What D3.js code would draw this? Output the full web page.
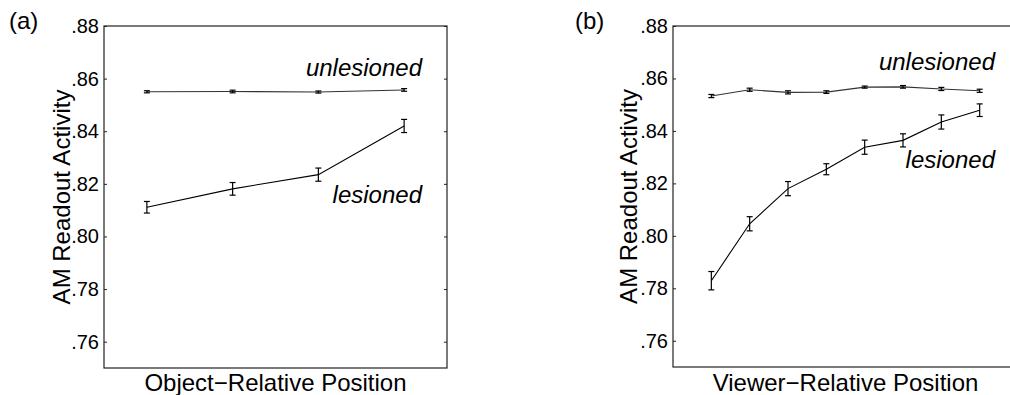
<!DOCTYPE html>
<html>
<head>
<meta charset="utf-8">
<script src="https://cdn.jsdelivr.net/npm/d3@7"></script>
<style>
  body { margin: 0; background: #fff; }
  svg { display: block; font-family: "Liberation Sans", Arial, sans-serif; }
  .tick text { font-size: 20px; fill: #000; }
  .tick line { stroke: #222; }
</style>
</head>
<body>
<div id="chart"></div>
<script>
// y axis ticks shared by both panels
var yTicks = [0.76, 0.78, 0.80, 0.82, 0.84, 0.86, 0.88];

// (a) object-relative
var objPositions = [1, 2, 3, 4];
var objUnlesioned = [0.8550, 0.8551, 0.8549, 0.8557];
var objUnlesionedErr = [0.0004, 0.0005, 0.0004, 0.0005];
var objLesioned = [0.8111, 0.8181, 0.8235, 0.8420];
var objLesionedErr = [0.0022, 0.0024, 0.0025, 0.0025];

// (b) viewer-relative
var viewPositions = [1, 2, 3, 4, 5, 6, 7, 8];
var viewUnlesioned = [0.8533, 0.8557, 0.8547, 0.8548, 0.8567, 0.8568, 0.8560, 0.8553];
var viewUnlesionedErr = [0.0006, 0.0006, 0.0006, 0.0005, 0.0004, 0.0005, 0.0006, 0.0006];
var viewLesioned = [0.7829, 0.8046, 0.8180, 0.8254, 0.8338, 0.8364, 0.8434, 0.8479];
var viewLesionedErr = [0.0035, 0.0027, 0.0027, 0.0021, 0.0027, 0.0025, 0.0027, 0.0024];

var svg = d3.select("#chart").append("svg")
    .attr("width", 1010)
    .attr("height", 395);

var fmt = function(d) { return d3.format(".2f")(d).replace(/^0/, ""); };

function drawPanel(p) {
  var x = d3.scalePoint()
      .domain(p.positions)
      .range([p.left, p.right])
      .padding(p.pad);

  var y = d3.scaleLinear()
      .domain([0.75, 0.88])
      .range([p.bottom, p.top]);

  var g = svg.append("g");

  // left axis, ticks inside
  g.append("g")
      .attr("transform", "translate(" + p.left + ",0)")
      .call(d3.axisLeft(y).tickValues(yTicks).tickSize(-3).tickPadding(5).tickFormat(fmt))
      .call(function(a) { a.select(".domain").remove(); });

  // right axis, ticks only
  g.append("g")
      .attr("transform", "translate(" + p.right + ",0)")
      .call(d3.axisRight(y).tickValues(yTicks).tickSize(-3).tickFormat(""))
      .call(function(a) { a.select(".domain").remove(); });

  g.append("rect")
      .attr("x", p.left)
      .attr("y", y(0.88))
      .attr("width", p.right - p.left)
      .attr("height", y(0.75) - y(0.88))
      .attr("fill", "none")
      .attr("stroke", "#222")
      .attr("stroke-width", 1.2);

  var line = d3.line()
      .x(function(d) { return x(d.pos); })
      .y(function(d) { return y(d.val); });

  [p.unlesioned, p.lesioned].forEach(function(s, k) {
    var pts = p.positions.map(function(pos, i) {
      return { pos: pos, val: s.vals[i], err: s.errs[i] };
    });

    g.append("path")
        .datum(pts)
        .attr("d", line)
        .attr("fill", "none")
        .attr("stroke", k === 0 ? "#333" : "#000")
        .attr("stroke-width", 1.1);

    var bars = g.selectAll(".err" + k)
        .data(pts)
      .enter().append("g")
        .attr("class", "err" + k)
        .attr("stroke", "#000")
        .attr("stroke-width", 1.2);

    bars.append("line")
        .attr("x1", function(d) { return x(d.pos); })
        .attr("x2", function(d) { return x(d.pos); })
        .attr("y1", function(d) { return y(d.val - d.err); })
        .attr("y2", function(d) { return y(d.val + d.err); });

    [-1, 1].forEach(function(sg) {
      bars.append("line")
          .attr("x1", function(d) { return x(d.pos) - 3; })
          .attr("x2", function(d) { return x(d.pos) + 3; })
          .attr("y1", function(d) { return y(d.val + sg * d.err); })
          .attr("y2", function(d) { return y(d.val + sg * d.err); });
    });
  });

  // series labels
  g.append("text")
      .attr("x", p.labelX)
      .attr("y", p.unlesionedLabelY)
      .attr("text-anchor", "end")
      .attr("font-style", "italic")
      .attr("font-size", 24)
      .text("unlesioned");

  g.append("text")
      .attr("x", p.labelX)
      .attr("y", p.lesionedLabelY)
      .attr("text-anchor", "end")
      .attr("font-style", "italic")
      .attr("font-size", 24)
      .text("lesioned");

  // axis titles
  g.append("text")
      .attr("transform", "translate(" + p.yTitleX + "," + ((p.top + p.bottom) / 2) + ") rotate(-90)")
      .attr("text-anchor", "middle")
      .attr("font-size", 24)
      .text("AM Readout Activity");

  g.append("text")
      .attr("x", x(p.positions[0]) + (x(p.positions[p.positions.length - 1]) - x(p.positions[0])) / 2)
      .attr("y", 391)
      .attr("text-anchor", "middle")
      .attr("font-size", 24)
      .text(p.xTitle);

  g.append("text")
      .attr("x", p.tagX)
      .attr("y", 29)
      .attr("font-size", 24)
      .text(p.tag);
}

drawPanel({
  positions: objPositions,
  unlesioned: { vals: objUnlesioned, errs: objUnlesionedErr },
  lesioned: { vals: objLesioned, errs: objLesionedErr },
  left: 104, right: 447, top: 26, bottom: 368, pad: 0.5,
  labelX: 422, unlesionedLabelY: 76, lesionedLabelY: 203,
  yTitleX: 70, xTitle: "Object\u2212Relative Position",
  tag: "(a)", tagX: 9
});

drawPanel({
  positions: viewPositions,
  unlesioned: { vals: viewUnlesioned, errs: viewUnlesionedErr },
  lesioned: { vals: viewLesioned, errs: viewLesionedErr },
  left: 673, right: 1018, top: 26, bottom: 367, pad: 1,
  labelX: 995, unlesionedLabelY: 70, lesionedLabelY: 168,
  yTitleX: 637, xTitle: "Viewer\u2212Relative Position",
  tag: "(b)", tagX: 575
});
</script>
</body>
</html>
